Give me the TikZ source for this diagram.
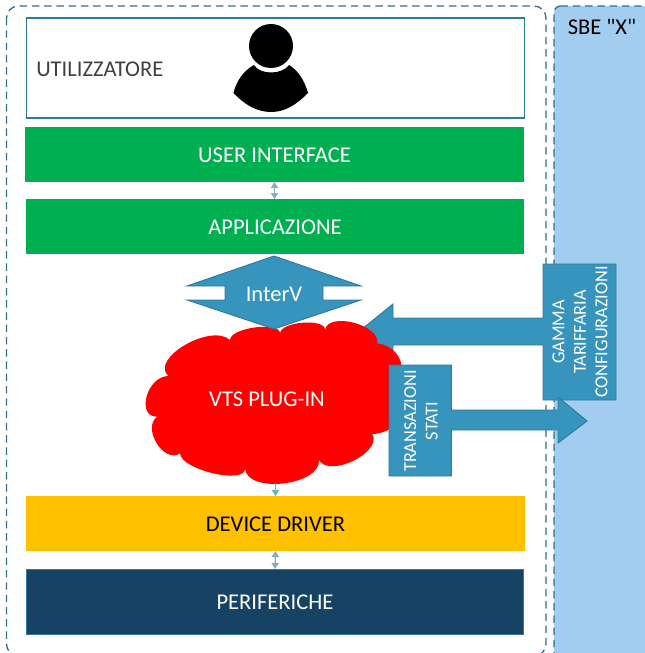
\documentclass[tikz,border=0pt]{standalone}
\usepackage{fontspec}
\setmainfont{Carlito}[Ligatures=TeXOff]
\usetikzlibrary{arrows.meta,calc}
\definecolor{dashblue}{HTML}{2F6F8F}
\definecolor{sbeblue}{HTML}{A3CDEE}
\definecolor{boxgreen}{HTML}{00B050}
\definecolor{boxamber}{HTML}{FFC000}
\definecolor{boxnavy}{HTML}{164364}
\definecolor{midblue}{HTML}{3794BC}
\definecolor{midedge}{HTML}{2F7A9C}
\definecolor{linkgrey}{HTML}{82B0BC}
\definecolor{linkteal}{HTML}{5FB6C4}
\definecolor{labelgrey}{HTML}{404040}
\tikzset{
  x=0.75pt,y=-0.75pt,
  lbl/.style={font=\fontsize{16.9pt}{16.2pt}\selectfont},
  layer/.style={minimum width=#1*0.75pt,inner sep=0pt,outer sep=0pt,lbl,text height=12.4pt,text depth=0pt},
  bluefill/.style={fill=midblue,draw=midedge,line width=0.7pt},
  bluetext/.style={text=white,font=\fontsize{13.7pt}{16.1pt}\selectfont,align=center,rotate=90,inner sep=0pt},
  updown/.style={{Triangle[width=5.5pt,length=4.5pt]}-{Triangle[width=5.5pt,length=4.5pt]},linkgrey,line width=1pt},
  downlink/.style={-{Triangle[width=5.5pt,length=4.5pt]},linkteal,line width=1pt},
  dashframe/.style={draw=dashblue,line width=1pt,dash pattern=on 5.6pt off 3.6pt}
}
\begin{document}
\begin{tikzpicture}
\useasboundingbox (0,0) rectangle (645,653);
% SBE panel
\path[fill=sbeblue,dashframe,rounded corners=5pt] (554,6) -- (660,6) -- (660,670) -- (554,670) -- cycle;
\node[lbl,text=black,inner sep=0pt] (sbe) at (602,27) {SBE "X"};
% dashed frame
\path[dashframe,rounded corners=9pt] (6.5,6) rectangle (546,656);
% user box
\node[draw=midedge,line width=0.8pt,fill=white,minimum width=498*0.75pt,minimum height=100*0.75pt,inner sep=0pt,outer sep=0pt] (user) at (275.5,68) {};
\node[lbl,text=labelgrey,anchor=west,inner sep=0pt] (utl) at (36,69.5) {UTILIZZATORE};
% person icon
\fill[black] (271,46) circle (22);
\fill[black] (254,65) .. controls (260,75) and (282,75) .. (289,65) .. controls (299,71) and (305,82) .. (308,93) .. controls (296,105) and (285,112) .. (271,112) .. controls (257,112) and (245,105) .. (233.5,93) .. controls (236,82) and (243,71) .. (254,65) -- cycle;
% layers
\node[layer=499,minimum height=55*0.75pt,fill=boxgreen,text=white] (ui) at (274.5,154.5) {USER INTERFACE};
\node[layer=498,minimum height=55*0.75pt,fill=boxgreen,text=white] (app) at (275,226.5) {APPLICAZIONE};
\node[layer=499,minimum height=55*0.75pt,fill=boxamber,text=black] (dd) at (275.5,523.5) {DEVICE DRIVER};
\node[layer=497,minimum height=65*0.75pt,fill=boxnavy,draw=midedge,line width=0.6pt,text=white] (per) at (275,601.5) {PERIFERICHE};
\draw[updown] (ui.south) -- (ui.south |- app.north);
\draw[updown] (dd.south) -- (per.north);
% gamma callout (under the cloud)
\path[bluefill] (543,264) -- (616,264) -- (616,400) -- (543,400) -- (543,345) -- (393,345) -- (393,360) -- (359,331.5) -- (393,304) -- (393,318) -- (543,318) -- cycle;
% cloud
\begin{scope}[shift={(120,250)},x=0.25pt,y=-0.25pt]
\fill[red] (145,378)
 .. controls (88,326) and (273,218) .. (330,270)
 .. controls (330,233) and (480,213) .. (480,250)
 .. controls (483,214) and (618,204) .. (615,240)
 .. controls (624,184) and (781,224) .. (772,280)
 .. controls (815,285) and (848,320) .. (845,360)
 -- (810,537)
 .. controls (790,548) and (770,552) .. (757,552)
 .. controls (788,607) and (628,685) .. (597,630)
 .. controls (602,707) and (380,732) .. (375,655)
 .. controls (378,705) and (183,660) .. (180,610)
 .. controls (132,643) and (64,533) .. (112,500)
 .. controls (47,501) and (80,379) .. (145,378) -- cycle;
\end{scope}
\node[lbl,text=white,inner sep=0pt] (vts) at (267,399) {VTS PLUG-IN};
\coordinate (cloudb) at (275.5,483);
\draw[downlink] (cloudb) -- (cloudb |- dd.north);
% InterV
\path[bluefill] (274,256) -- (361,286) -- (323,286) -- (323,300) -- (361,300) -- (274,329) -- (187,300) -- (225,300) -- (225,286) -- (187,286) -- cycle;
\node[lbl,text=white,inner sep=0pt] (iv) at (274,294) {InterV};
% right callouts
\node[bluetext] (gamma) at (580,332) {GAMMA\\TARIFFARIA\\CONFIGURAZIONI};
\path[bluefill] (389,365) -- (451.5,365) -- (451.5,410) -- (558,410) -- (558,397) -- (587,421) -- (558,443) -- (558,430) -- (451.5,430) -- (451.5,476) -- (389,476) -- cycle;
\node[bluetext] (trans) at (421,421) {TRANSAZIONI\\STATI};
\end{tikzpicture}
\end{document}
